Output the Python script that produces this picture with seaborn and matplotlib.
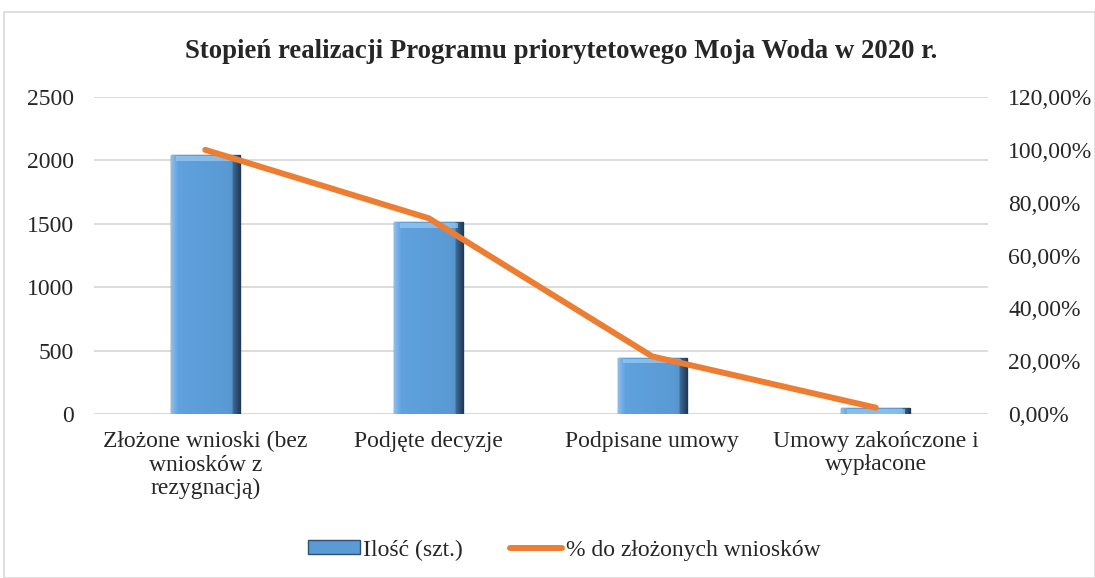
import matplotlib
matplotlib.use("Agg")
import matplotlib.pyplot as plt
import seaborn as sns
import pandas as pd
import numpy as np
from matplotlib.patches import Rectangle
from matplotlib.ticker import FuncFormatter
from matplotlib.colors import LinearSegmentedColormap

categories = ["Złożone wnioski (bez\nwniosków z\nrezygnacją)", "Podjęte decyzje",
              "Podpisane umowy", "Umowy zakończone i\nwypłacone"]
counts = [2042, 1514, 445, 48]
percents = [100.0, 74.1, 21.8, 2.4]

sns.set_theme(style="white")
plt.rcParams['font.family'] = ['Liberation Serif', 'DejaVu Serif']

df = pd.DataFrame({"cat": categories, "count": counts, "pct": percents})

fig = plt.figure(figsize=(10.95, 5.78), dpi=100)
ax = fig.add_axes([93.5/1095, 1-414/578, (987.5-93.5)/1095, (414-97)/578])

sns.barplot(data=df, x="cat", y="count", ax=ax, color="#5B9BD5", width=0.31,
            edgecolor="#2E4F73", linewidth=1.0, saturation=1, label="Ilość (szt.)")
ax.set_ylim(0, 2500)
ax.set_yticks(range(0, 2501, 500))
ax.yaxis.grid(True, color="#D9D9D9", linewidth=1.3)
ax.set_axisbelow(True)
for s in ax.spines.values():
    s.set_visible(False)
ax.set_xlabel("")
ax.set_ylabel("")
ax.tick_params(axis="both", labelsize=17, length=0)
ax.tick_params(axis="y", pad=14)
ax.tick_params(axis="x", pad=12)
for t in ax.get_xticklabels():
    t.set_linespacing(1.17)

# bevel-like shading on bars
cmap = LinearSegmentedColormap.from_list("bev", ["#8CBDEB", "#5FA3E0", "#5B9BD5", "#3F6F9C", "#1F3550"])
grad = np.linspace(0, 1, 100).reshape(1, -1)
grad = np.where(grad < 0.1, grad * 2.5, np.where(grad > 0.88, 0.75 + (grad - 0.88) * 2.0, 0.3 + (grad - 0.1) * 0.3))
for p in list(ax.patches):
    x0, y0 = p.get_x(), p.get_y()
    w, h = p.get_width(), p.get_height()
    im = ax.imshow(grad, cmap=cmap, vmin=0, vmax=1, aspect="auto",
                   extent=[x0, x0 + w, y0, y0 + h], zorder=p.get_zorder() + 0.1)
    im.set_clip_path(p)
    top = min(h, 2500 * 0.018)
    ax.add_patch(Rectangle((x0 + w * 0.08, y0 + h - top), w * 0.84, top * 0.8,
                           facecolor="#9CCBF2", edgecolor="none", alpha=0.7,
                           zorder=p.get_zorder() + 0.2))
ax.set_xlim(-0.5, 3.5)

ax2 = ax.twinx()
sns.lineplot(x=list(range(len(categories))), y=percents, ax=ax2, color="#ED7D31",
             linewidth=4.3, label="% do złożonych wniosków", legend=False)
ax2.set_ylim(0, 120)
ax2.set_xlim(-0.5, 3.5)
ax2.set_yticks(range(0, 121, 20))
ax2.yaxis.set_major_formatter(FuncFormatter(lambda v, p: f"{v:.2f}%".replace(".", ",")))
for s in ax2.spines.values():
    s.set_visible(False)
ax2.tick_params(axis="y", labelsize=17, length=0, pad=15)
ax2.set_ylabel("")

h1, l1 = ax.get_legend_handles_labels()
h2, l2 = ax2.get_legend_handles_labels()
leg = ax.get_legend()
if leg:
    leg.remove()
fig.legend(h1 + h2, l1 + l2, loc="center", bbox_to_anchor=(0.515, 1-550/578), ncol=2,
           frameon=False, fontsize=17, handlelength=2.2, handleheight=0.5,
           handletextpad=0.15, columnspacing=2.0)

fig.text(0.512, 1-52/578, "Stopień realizacji Programu priorytetowego Moja Woda w 2020 r.",
         ha="center", va="center", fontsize=19.3, fontweight="bold")

fig.patches.append(Rectangle((4/1095, 0), 1 - 4/1095, 1 - 12/578, transform=fig.transFigure,
                             fill=False, edgecolor="#D9D9D9", linewidth=1.2))

fig.savefig("out.png", dpi=100)
